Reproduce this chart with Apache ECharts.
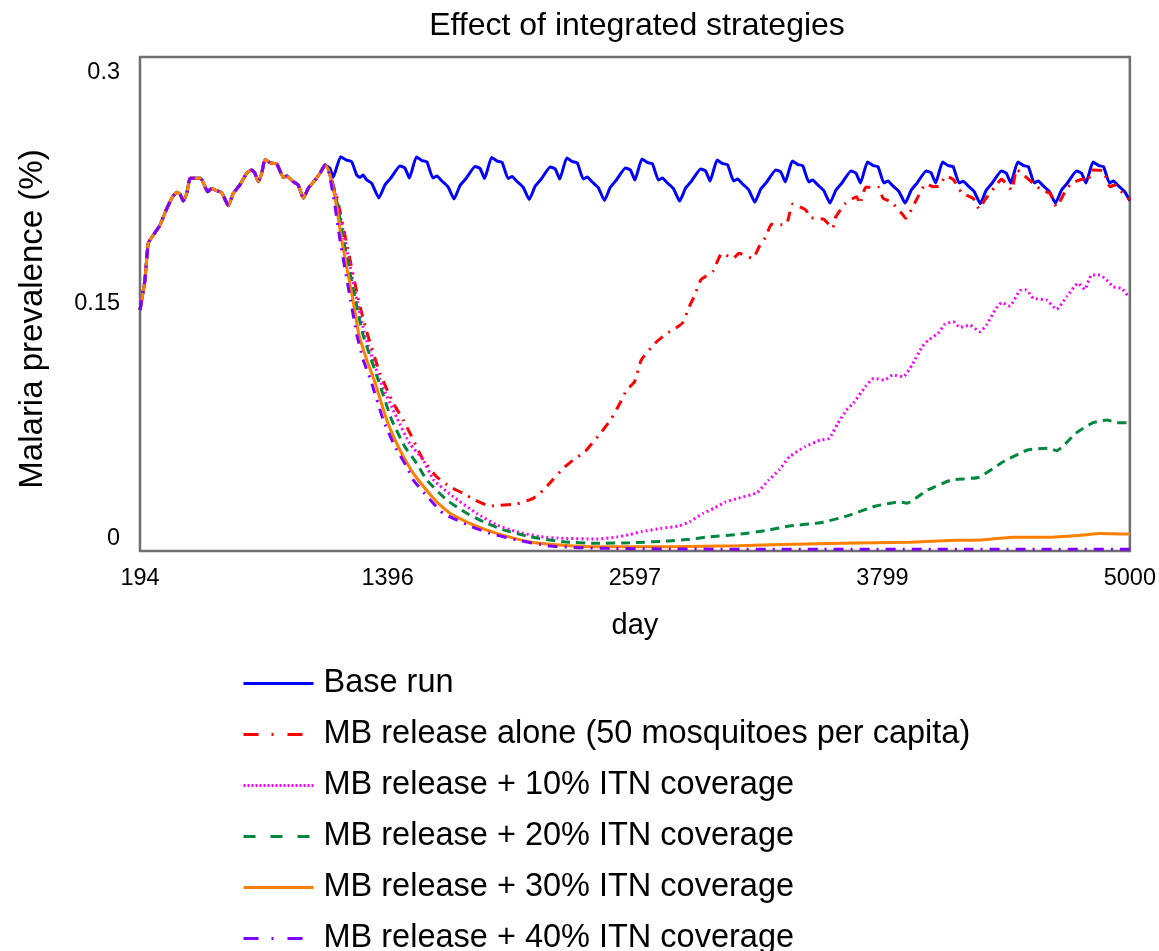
<!DOCTYPE html>
<html>
<head>
<meta charset="utf-8">
<title>Effect of integrated strategies</title>
<script src="https://cdn.jsdelivr.net/npm/echarts@6/dist/echarts.min.js"></script>
<style>
  html, body { margin: 0; padding: 0; background: #ffffff; }
  #chart { width: 1159px; height: 951px; }
</style>
</head>
<body>
<div id="chart"></div>
<script>
// Malaria prevalence over simulated days, base run vs. combined MB release + ITN strategies.

const dayTicks = [194, 1396, 2597, 3799, 5000];

// Common warm-up period shared by every scenario (before the interventions start)
const warmupDays = [194,218,234,259,291,315,348,372,388,404,421,437,461,489,510,523,542,566,591,623,647,679,712,736,752,768,785,801,825,858,890,906,938,962,987,1011,1044,1068,1092];
const warmupPrev = [0.1464,0.1646,0.1869,0.1919,0.1979,0.2053,0.2142,0.2178,0.2168,0.2125,0.2172,0.2263,0.2263,0.2263,0.2212,0.2182,0.2203,0.2188,0.2176,0.2097,0.2172,0.2223,0.2294,0.2314,0.2294,0.2243,0.2294,0.2379,0.2358,0.2350,0.2269,0.2277,0.2243,0.2223,0.2142,0.2203,0.2253,0.2294,0.2344];

// Base run (no intervention)
const baseDays = [1116,1132,1168,1197,1222,1246,1262,1277,1295,1319,
  1354,1383,1412,1456,1480,1502,1536,1563,1587,1616,1636,1657,1689,
  1719,1748,1777,1821,1845,1867,1901,1928,1952,1981,2001,2022,2054,
  2084,2113,2142,2186,2210,2232,2266,2293,2317,2346,2366,2387,2419,
  2449,2478,2507,2551,2575,2597,2631,2658,2682,2711,2731,2752,2784,
  2814,2843,2872,2916,2940,2962,2996,3023,3047,3076,3096,3117,3149,
  3179,3208,3237,3281,3305,3327,3361,3388,3412,3441,3461,3482,3514,
  3544,3573,3602,3646,3670,3692,3726,3753,3777,3806,3826,3847,3879,
  3909,3938,3967,4011,4035,4057,4091,4118,4142,4171,4191,4212,4244,
  4274,4303,4332,4376,4400,4422,4456,4483,4507,4536,4556,4577,4609,
  4639,4668,4697,4741,4765,4787,4821,4848,4872,4901,4921,4942,4974,
  5000];
const basePrev = [0.2324,0.2269,0.2394,0.2374,0.2364,0.2283,0.2269,0.2283,0.2253,0.2233,
  0.2144,0.2223,0.2265,0.2338,0.2326,0.2265,0.2393,0.2371,0.2364,0.2265,0.2277,0.2250,0.2213,
  0.2138,0.2220,0.2262,0.2335,0.2323,0.2262,0.2390,0.2368,0.2361,0.2262,0.2274,0.2247,0.2210,
  0.2135,0.2216,0.2259,0.2332,0.2320,0.2259,0.2387,0.2365,0.2358,0.2259,0.2271,0.2244,0.2207,
  0.2129,0.2210,0.2253,0.2326,0.2314,0.2253,0.2381,0.2359,0.2352,0.2253,0.2265,0.2238,0.2201,
  0.2125,0.2204,0.2247,0.2320,0.2308,0.2247,0.2374,0.2353,0.2346,0.2247,0.2259,0.2232,0.2195,
  0.2119,0.2198,0.2241,0.2314,0.2302,0.2241,0.2368,0.2347,0.2340,0.2241,0.2253,0.2226,0.2189,
  0.2113,0.2192,0.2235,0.2308,0.2295,0.2235,0.2362,0.2341,0.2334,0.2235,0.2247,0.2220,0.2183,
  0.2113,0.2190,0.2235,0.2308,0.2296,0.2235,0.2362,0.2340,0.2334,0.2235,0.2246,0.2220,0.2183,
  0.2110,0.2192,0.2235,0.2308,0.2295,0.2235,0.2362,0.2341,0.2334,0.2235,0.2247,0.2220,0.2183,
  0.2113,0.2192,0.2235,0.2308,0.2295,0.2235,0.2362,0.2341,0.2334,0.2235,0.2247,0.2220,0.2183,
  0.2127];

// MB release alone (50 mosquitoes per capita)
const mbAloneDays = [1109,1153,1197,1255,1295,1359,1424,1472,1521,1569,1634,1699,1763,1820,1893,1942,2023,2103,2152,2200,2249,2297,2354,2427,2484,2524,2557,2595,2628,2694,2752,2786,2829,2861,2888,2917,2976,3019,3075,3102,3168,3204,3233,3260,3325,3340,3363,3427,3446,3514,3557,3568,3616,3673,3689,3718,3778,3802,3843,3899,3912,3965,4010,4045,4074,4107,4142,4183,4239,4268,4296,4345,4377,4426,4450,4474,4531,4571,4612,4644,4685,4717,4773,4797,4814,4870,4903,4927,4951,4991,5000];
const mbAlonePrev = [0.2314,0.2132,0.1869,0.1524,0.1330,0.1079,0.0897,0.0796,0.0674,0.0553,0.0451,0.0390,0.0350,0.0310,0.0273,0.0278,0.0285,0.0320,0.0370,0.0435,0.0502,0.0553,0.0603,0.0711,0.0806,0.0897,0.0978,0.1028,0.1160,0.1261,0.1322,0.1346,0.1386,0.1484,0.1555,0.1646,0.1700,0.1808,0.1777,0.1808,0.1777,0.1858,0.1909,0.1984,0.1980,0.2010,0.2107,0.2070,0.2026,0.2014,0.1960,0.2020,0.2107,0.2152,0.2107,0.2209,0.2209,0.2142,0.2118,0.2040,0.2020,0.2136,0.2229,0.2212,0.2216,0.2277,0.2257,0.2176,0.2142,0.2077,0.2132,0.2212,0.2257,0.2192,0.2318,0.2294,0.2233,0.2192,0.2172,0.2091,0.2182,0.2233,0.2257,0.2243,0.2314,0.2309,0.2212,0.2223,0.2192,0.2142,0.2132];

// MB release + 10% ITN coverage
const itn10Days = [1109,1150,1189,1247,1286,1359,1440,1505,1569,1620,1715,1828,1926,2023,2136,2249,2411,2508,2573,2628,2728,2812,2862,2929,2980,3038,3097,3189,3247,3297,3348,3423,3498,3540,3582,3624,3657,3716,3757,3808,3849,3900,3942,3992,4021,4069,4102,4142,4175,4223,4271,4304,4345,4377,4417,4466,4498,4531,4596,4644,4693,4749,4781,4814,4854,4887,4919,4960,4991,5000];
const itn10Prev = [0.2314,0.2132,0.1889,0.1524,0.1312,0.1038,0.0810,0.0650,0.0553,0.0431,0.0330,0.0229,0.0158,0.0117,0.0087,0.0077,0.0073,0.0085,0.0100,0.0117,0.0138,0.0152,0.0178,0.0229,0.0259,0.0299,0.0320,0.0354,0.0431,0.0492,0.0573,0.0633,0.0674,0.0684,0.0775,0.0856,0.0897,0.0998,0.1049,0.1038,0.1069,0.1058,0.1130,0.1241,0.1281,0.1322,0.1377,0.1392,0.1358,0.1372,0.1332,0.1372,0.1464,0.1508,0.1488,0.1581,0.1585,0.1535,0.1524,0.1468,0.1544,0.1626,0.1589,0.1676,0.1676,0.1646,0.1605,0.1595,0.1549,0.1540];

// MB release + 20% ITN coverage
const itn20Days = [1109,1148,1182,1240,1277,1351,1416,1480,1537,1586,1683,1780,1861,1958,2087,2249,2411,2573,2762,2862,2963,3097,3230,3348,3498,3615,3766,3883,3917,4017,4134,4268,4385,4503,4604,4645,4737,4821,4888,4938,4988,5000];
const itn20Prev = [0.2314,0.2132,0.1889,0.1524,0.1312,0.1038,0.0796,0.0633,0.0533,0.0431,0.0310,0.0229,0.0178,0.0128,0.0087,0.0056,0.0047,0.0050,0.0061,0.0071,0.0087,0.0101,0.0123,0.0152,0.0172,0.0208,0.0273,0.0299,0.0290,0.0370,0.0431,0.0448,0.0542,0.0613,0.0624,0.0609,0.0715,0.0779,0.0796,0.0779,0.0779,0.0773];

// MB release + 30% ITN coverage
const itn30Days = [1109,1143,1173,1197,1228,1257,1295,1331,1392,1448,1505,1545,1634,1699,1812,1926,2087,2249,2411,2573,2762,3097,3431,3766,3933,4101,4268,4436,4604,4771,4854,4988,5000];
const itn30Prev = [0.2314,0.2132,0.1889,0.1726,0.1524,0.1312,0.1160,0.1038,0.0796,0.0633,0.0502,0.0431,0.0299,0.0229,0.0158,0.0107,0.0055,0.0035,0.0026,0.0026,0.0026,0.0032,0.0043,0.0050,0.0053,0.0063,0.0067,0.0083,0.0083,0.0097,0.0107,0.0103,0.0103];

// MB release + 40% ITN coverage
const itn40Days = [1109,1136,1165,1216,1247,1278,1314,1375,1432,1489,1521,1618,1666,1796,1893,2023,2184,2330,2460,2800,3500,4200,5000];
const itn40Prev = [0.2314,0.2132,0.1889,0.1524,0.1312,0.1160,0.1038,0.0796,0.0633,0.0512,0.0431,0.0290,0.0229,0.0152,0.0107,0.0067,0.0030,0.0020,0.0016,0.0012,0.0010,0.0010,0.0010];

const FONT = "'Liberation Sans', Arial, Helvetica, sans-serif";

function pairs(days, vals) {
  return days.map(function (d, i) { return [d, vals[i]]; });
}
function withWarmup(days, vals) {
  return pairs(warmupDays, warmupPrev).concat(pairs(days, vals));
}

const scenarios = [
  { name: 'Base run', data: withWarmup(baseDays, basePrev), color: '#0000ff', type: 'solid', legendType: 'solid' },
  { name: 'MB release alone (50 mosquitoes per capita)', data: withWarmup(mbAloneDays, mbAlonePrev), color: '#ff0000', type: [10, 7, 2, 7], legendType: [15, 13, 2, 14] },
  { name: 'MB release + 10% ITN coverage', data: withWarmup(itn10Days, itn10Prev), color: '#ff00ff', type: [2, 3], legendType: [2, 2] },
  { name: 'MB release + 20% ITN coverage', data: withWarmup(itn20Days, itn20Prev), color: '#00873e', type: [9, 6], legendType: [12, 15] },
  { name: 'MB release + 30% ITN coverage', data: withWarmup(itn30Days, itn30Prev), color: '#ff8000', type: 'solid', legendType: 'solid' },
  { name: 'MB release + 40% ITN coverage', data: withWarmup(itn40Days, itn40Prev), color: '#7f00ff', type: [10, 7, 2, 7], legendType: [15, 13, 2, 14] }
];

const chart = echarts.init(document.getElementById('chart'), null, { renderer: 'canvas' });

chart.setOption({
  backgroundColor: '#ffffff',
  animation: false,
  textStyle: { fontFamily: FONT },
  title: {
    text: 'Effect of integrated strategies',
    left: 632,
    top: 5,
    textAlign: 'center',
    textStyle: { fontFamily: FONT, fontSize: 32, fontWeight: 'normal', color: '#000000' }
  },
  grid: {
    left: 140, top: 57, width: 990, height: 494,
    show: true, borderColor: '#6e6e6e', borderWidth: 2.5, backgroundColor: 'transparent'
  },
  xAxis: {
    type: 'value',
    min: 194,
    max: 5000,
    name: 'day',
    nameLocation: 'middle',
    nameGap: 60,
    nameTextStyle: { fontFamily: FONT, fontSize: 29, color: '#000000' },
    axisLine: { show: false },
    axisTick: { show: false },
    splitLine: { show: false },
    axisLabel: {
      customValues: dayTicks,
      fontFamily: FONT, fontSize: 23.5, color: '#000000', margin: 16,
      formatter: function (v) { return String(v); }
    }
  },
  yAxis: {
    type: 'value',
    min: 0,
    max: 0.3,
    interval: 0.15,
    axisLine: { show: false },
    axisTick: { show: false },
    splitLine: { show: false },
    axisLabel: {
      fontFamily: FONT, fontSize: 23.5, color: '#000000', margin: 20,
      verticalAlignMinLabel: 'bottom',
      verticalAlignMaxLabel: 'top',
      formatter: function (v) {
        if (v === 0) return '0';
        const s = String(+v.toFixed(2));
        return v >= 0.3 ? '{top|' + s + '}' : s;
      },
      rich: {
        top: { fontFamily: FONT, fontSize: 23.5, color: '#000000', padding: [4, 0, 0, 0] }
      }
    }
  },
  graphic: [{
    type: 'text',
    x: 33, y: 319,
    rotation: Math.PI / 2,
    style: {
      text: 'Malaria prevalence (%)',
      font: '33px ' + FONT,
      fill: '#000000',
      textAlign: 'center',
      textVerticalAlign: 'middle'
    }
  }],
  legend: {
    orient: 'vertical',
    left: 242,
    top: 667,
    height: 340,
    padding: 0,
    itemWidth: 70,
    itemHeight: 14,
    itemGap: 18,
    selectedMode: false,
    textStyle: { fontFamily: FONT, fontSize: 32.5, color: '#000000', padding: [0, 0, 0, 5] },
    data: scenarios.map(function (s) {
      return {
        name: s.name,
        itemStyle: { color: 'rgba(0,0,0,0)', borderWidth: 0, opacity: 0 },
        lineStyle: { type: s.legendType, width: 3, color: s.color }
      };
    })
  },
  series: scenarios.map(function (s) {
    return {
      name: s.name,
      type: 'line',
      data: s.data,
      symbol: 'none',
      showSymbol: false,
      smooth: 0.15,
      color: s.color,
      lineStyle: { color: s.color, width: 3, type: s.type, cap: 'butt' },
      emphasis: { disabled: true }
    };
  })
});
</script>
</body>
</html>
